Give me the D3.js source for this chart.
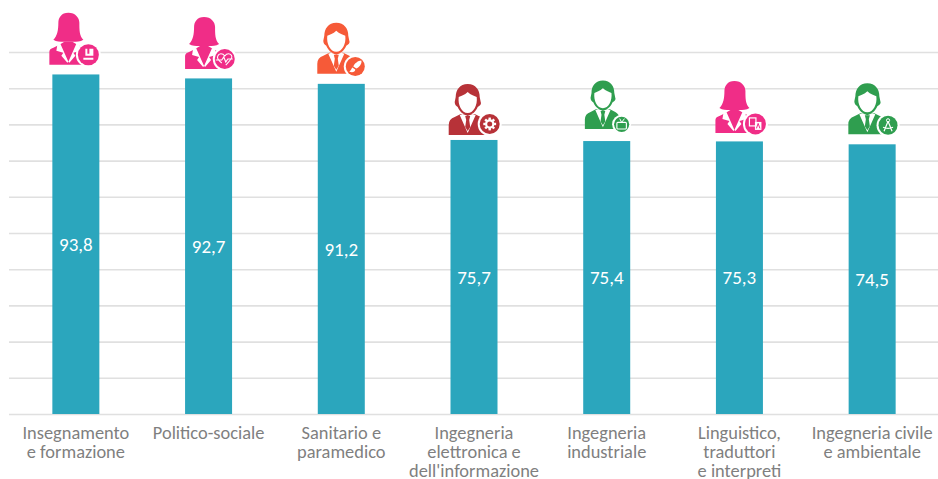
<!DOCTYPE html>
<html><head><meta charset="utf-8">
<script src="https://cdnjs.cloudflare.com/ajax/libs/d3/7.8.5/d3.min.js"></script>
<style>html,body{margin:0;padding:0;background:#fff}svg{display:block}text{font-family:Carlito,Lato,"Open Sans",sans-serif}</style>
</head><body><svg id="c" width="938" height="479"></svg>
<script>
const categories = ["Insegnamento\ne formazione","Politico-sociale","Sanitario e\nparamedico","Ingegneria\nelettronica e\ndell'informazione","Ingegneria\nindustriale","Linguistico,\ntraduttori\ne interpreti","Ingegneria civile\ne ambientale"];
const values = [93.8,92.7,91.2,75.7,75.4,75.3,74.5];
const labels = ["93,8","92,7","91,2","75,7","75,4","75,3","74,5"];
const figures = ["woman","woman","man","man","man","woman","man"];
const emblems = ["book","heart","brush","gear","tv","lang","compass"];
const tones = ["pink","pink","orange","red","green","pink","green"];
const yTicks = [0,10,20,30,40,50,60,70,80,90,100];

const palette = {pink:"#f02d87",orange:"#f65a38",red:"#b73238",green:"#2f9e4f"};
// icon placement relative to the top of each bar: [dx, gap, badge dx, badge dy, badge r, scale]
const place = [[-7.5,9.7,20,-10,10.5,1],[-4.5,9.4,20.7,-10,10,1],[-5,10,19,-7.3,9.5,1],[-6.3,5,22,-11,10,1],[-3.8,12,19.7,-5,8,0.95],[-5,8.5,21,-9,10.5,1],[-4.8,10,20.7,-9,9.5,1]];

const svg = d3.select("#c");
const x = d3.scaleBand().domain(d3.range(categories.length)).range([9.5,938.5]);
const y = d3.scaleLinear().domain([0,100]).range([414,52]);
const barW = 47;

const gy = svg.append("g").attr("transform","translate(9,0)")
  .call(d3.axisRight(y).tickValues(yTicks).tickSize(929).tickFormat(""));
gy.select(".domain").remove();
gy.selectAll("line").attr("stroke","#e0e0e0").attr("stroke-width",1.6);

const cx = i => x(i)+x.bandwidth()/2;

svg.append("g").selectAll("rect").data(values).join("rect")
  .attr("x",(d,i)=>cx(i)-barW/2).attr("width",barW)
  .attr("y",d=>y(d)).attr("height",d=>y(0)-y(d)).attr("fill","#2ba6bd");

svg.append("g").selectAll("text").data(values).join("text")
  .attr("x",(d,i)=>cx(i)).attr("y",d=>(y(d)+y(0))/2)
  .attr("dy","0.35em").attr("text-anchor","middle").attr("fill","#fff").attr("font-size",19)
  .text((d,i)=>labels[i]);

const gx = svg.append("g").attr("transform","translate(0,414)")
  .call(d3.axisBottom(x).tickSize(0).tickFormat(""));
gx.select(".domain").remove();
gx.selectAll(".tick").each(function(i){
  const t = d3.select(this).append("text").attr("text-anchor","middle").attr("fill","#7f7f7f")
    .attr("font-size",18.4);
  categories[i].split("\n").forEach((s,k)=>t.append("tspan").attr("x",0).attr("y",24.5+k*19.2).text(s));
});

const shapes = {
  woman(g,c){
    g.append("path").attr("fill",c).attr("d","M-19,0 L-19,-13 Q-19,-16 -15,-17 L-9,-20 L-4,-23 L4,-23 L9,-20 L15,-17 Q17,-16 17,-13 L17,0 Z");
    g.append("path").attr("fill",c).attr("d","M0,-52 C-7,-52 -10,-47 -10,-42 C-10,-35 -11,-29 -15,-25 C-12,-23 -8,-23 -5,-23 L5,-23 C8,-23 12,-23 15,-25 C11,-29 11,-35 11,-42 C11,-47 7,-52 0,-52 Z");
    g.append("path").attr("fill","#fff").attr("d","M-11,-20 L-8,-21 L0,-3 L-1,-2 L-7,-9 L-5,-12 L-12,-14 Z");
    g.append("path").attr("fill","#fff").attr("d","M11,-20 L8,-21 L0,-3 L1,-2 L7,-9 L5,-12 L12,-14 Z");
  },
  man(g,c){
    g.append("path").attr("fill",c).attr("d","M-19,0 L-19,-10 Q-19,-16 -13,-18 L-7,-21 L7,-21 L13,-18 Q17,-16 18,-10 L18,0 Z");
    g.append("path").attr("fill",c).attr("d","M0,-51 C-8,-51 -12,-45 -12,-38 L-13,-33 C-13,-31 -12,-29 -10,-28 C-8,-23 -4,-20 0,-20 C4,-20 8,-23 10,-28 C12,-29 14,-31 13,-33 L12,-38 C12,-45 8,-51 0,-51 Z");
    g.append("path").attr("fill","#fff").attr("d","M0,-43 C-3,-40 -7,-39 -9,-38 C-10,-30 -6,-22 0,-22 C6,-22 10,-30 9,-38 C7,-39 3,-40 0,-43 Z");
    g.append("path").attr("fill","#fff").attr("d","M-8,-20 L-5,-21 L0,-19 L5,-21 L8,-20 L0,-2 Z");
    g.append("path").attr("fill",c).attr("d","M-2.5,-19 L2.5,-19 L1.5,-15 L2.5,-8 L0,-4 L-2.5,-8 L-1.5,-15 Z");
  }
};

const glyphs = {
  book(g){g.append("path").attr("fill","#fff").attr("d","M-5,-6 L-3,-6 L-3,1 L5,1 L5,-6 L1,-6 L1,-1 L-1,-1 L-1,-6 L-3,-6 M-5,-6 L-5,5 L5,5 L5,3 L-5,3 Z");},
  heart(g){g.append("path").attr("fill","none").attr("stroke","#fff").attr("stroke-width",1.1).attr("d","M-3,4 C-7,1 -8,-1 -7,-3 C-6,-6 -2,-6 0,-3 C2,-6 6,-6 7,-3 C8,-1 5,2 1,6 M-9,1 L-3,1 L-1,-2 L1,3 L3,0 L8,0");},
  brush(g){g.append("path").attr("fill","#fff").attr("d","M6,-6 C3,-6 -1,-3 -2,0 L1,2 C4,1 7,-3 6,-6 Z M-3,1 L0,3 C0,6 -4,6 -6,5 C-4,4 -4,2 -3,1 Z");},
  gear(g){g.append("circle").attr("r",3.6).attr("fill","none").attr("stroke","#fff").attr("stroke-width",2.2);
    d3.range(8).forEach(k=>g.append("rect").attr("x",-1.2).attr("y",-6.4).attr("width",2.4).attr("height",2.4).attr("fill","#fff").attr("transform",`rotate(${k*45})`));},
  tv(g){g.append("rect").attr("x",-5).attr("y",-2).attr("width",10).attr("height",7).attr("rx",1).attr("fill","none").attr("stroke","#fff").attr("stroke-width",1.2);
    g.append("path").attr("fill","none").attr("stroke","#fff").attr("stroke-width",1).attr("d","M-2,-6 L0,-2 L3,-6");},
  lang(g){g.append("rect").attr("x",-6).attr("y",-6).attr("width",6.5).attr("height",8).attr("fill","none").attr("stroke","#fff").attr("stroke-width",1.2);
    g.append("rect").attr("x",-0.5).attr("y",-2).attr("width",6.5).attr("height",8).attr("fill","#fff");
    g.append("path").attr("fill","none").attr("stroke","#f02d87").attr("stroke-width",1).attr("d","M1,4.5 L2.7,-0.5 L4.5,4.5");},
  compass(g){g.append("path").attr("fill","none").attr("stroke","#fff").attr("stroke-width",1.2).attr("d","M0,-4 L-4,6 M0,-4 L4,6 M-5,2 Q0,4 5,2");
    g.append("circle").attr("cy",-5).attr("r",1.6).attr("fill","none").attr("stroke","#fff");}
};

const icons = svg.append("g").selectAll("g").data(values).join("g")
  .attr("transform",(d,i)=>`translate(${cx(i)+place[i][0]},${y(d)-place[i][1]}) scale(${place[i][5]})`);
icons.each(function(d,i){
  const g = d3.select(this), c = palette[tones[i]], p = place[i];
  shapes[figures[i]](g,c);
  const b = g.append("g").attr("transform",`translate(${p[2]},${p[3]})`);
  b.append("circle").attr("r",p[4]+2).attr("fill","#fff");
  b.append("circle").attr("r",p[4]).attr("fill",c);
  glyphs[emblems[i]](b);
});
</script></body></html>
